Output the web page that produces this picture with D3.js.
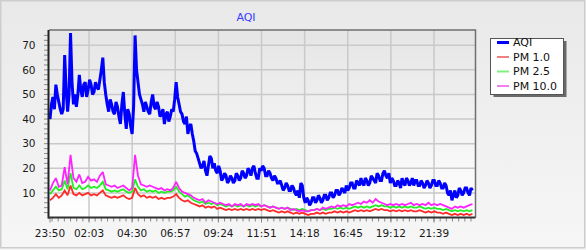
<!DOCTYPE html>
<html><head><meta charset="utf-8">
<script src="https://cdn.jsdelivr.net/npm/d3@7"></script>
<style>
body{margin:0;background:#fff}
svg{display:block}
text{font-family:"DejaVu Sans",Verdana,sans-serif}
</style>
</head><body>
<svg id="c" width="586" height="250"></svg>
<script>
// ---- data ----
const title = "AQI";
const startTime = "23:50";
const aqiStepMinutes = 5;
const pmStepMinutes = 10;
const tickLabels = ["23:50","02:03","04:30","06:57","09:24","11:51","14:18","16:45","19:12","21:39"];
const yTicks = [10,20,30,40,50,60,70];
const seriesNames = ["AQI","PM 1.0","PM 2.5","PM 10.0"];

const aqi = [
 40,46, 49,44, 54,50, 47,44, 42,44,
 66,52, 43,50, 75,55, 46,50, 45,50,
 58,52, 49,54, 55,49, 52,56, 54,50,
 51,55, 53,52, 56,60, 65,55, 50,46,
 43,48, 46,43, 42,47, 45,41, 38,46,
 51,42, 36,44, 42,37, 34,45, 74,60,
 55,50, 48,46, 43,47, 45,43, 42,47,
 50,45, 44,47, 45,41, 42,44, 38,42,
 43,39, 41,44, 43,48, 55,49, 46,43,
 42,39, 38,41, 34,37, 38,34, 31,27,
 26,24, 22,20, 21,23, 19,17, 21,25,
 24,20, 22,19, 18,21, 19,15, 16,18,
 17,14, 15,17, 16,14, 15,18, 17,15,
 16,19, 18,16, 17,20, 19,17, 20,21,
 18,16, 16,20, 19,21, 20,17, 17,19,
 18,16, 15,17, 16,14, 14,15, 13,11,
 12,14, 13,11, 11,13, 12,10, 9,11,
 8,14, 13,8, 6,8, 7,5, 6,8,
 8,6, 7,9, 8,6, 7,9, 9,7,
 8,10, 10,8, 9,11, 11,9, 10,12,
 11,10, 13,11, 12,14, 14,12, 12,15,
 14,13, 16,14, 13,16, 15,13, 14,17,
 16,15, 14,18, 17,15, 15,18, 19,17,
 16,18, 14,16, 15,13, 13,15, 14,12,
 16,14, 13,16, 15,13, 14,16, 13,15,
 15,13, 13,15, 14,12, 13,15, 14,12,
 13,15, 15,13, 13,15, 14,12, 12,14,
 13,10, 9,11, 7,9, 11,8, 9,12,
 11,9, 10,12, 12,10, 9,12, 11];

const pm1 = [
 7,8,9.5,8,9,11,9,13,9.5,9,
 10,9,9.5,10,9,9.5,9,10,11,9,
 8.5,8,8.5,8,8.5,9,8,7.5,8,12,
 9.5,8.5,9,8,8.5,8,8.5,7.5,8,7.5,
 8,8,8.5,9.5,8,7,6.5,7,6,5.5,
 5,4.5,5,4,4.5,4,4.5,3.5,4,3.5,
 3,3.5,3,3.5,3,3.5,3,3.5,3,3.5,
 3,3.5,3,3.5,3,2.5,3,2.5,2,2.5,
 2,2.5,2,1.5,2,1.5,2,1.5,1,1.5,
 1.5,2,1.5,2,1.5,2,2,2.5,2,2.5,
 2,2.5,2,2.5,3,2.5,3,2.5,3,2.5,
 3,3.5,3,3.5,3,3,2.5,3,2.5,3,
 2.5,3,2.5,3,2.5,2.5,3,2.5,2,2.5,
 2,2.5,2,2,1.5,2,1.5,1,1.5,1,
 1.5,1,1.5,1,1.5];

const pm25 = [
 9.5,11,12.5,11,11.5,15,11.5,18,12,11.5,
 13,11.5,12,13,12,12.5,12,13,14.5,11.5,
 11,10.5,11,10.5,11,11.5,10.5,10,10.5,15.5,
 12.5,11,11.5,10.5,11,10.5,11,10,10.5,10,
 10.5,10.5,11,12.5,10.5,9.5,8.5,9,8,7,
 6.5,6,6.5,5.5,6,5.5,6,5,5.5,5,
 4.5,5,4.5,5,4.5,5,4.5,5,4.5,5,
 4.5,5,4.5,5,4.5,4,4.5,4,3.5,4,
 3.5,4,3.5,3,3.5,3,3.5,3,2.5,3,
 3,3.5,3,3.5,3,3.5,3.5,4,3.5,4,
 3.5,4,3.5,4,4.5,4,4.5,4,4.5,4,
 4.5,5,4.5,5,4.5,4.5,4,4.5,4,4.5,
 4,4.5,4,4.5,4,4,4.5,4,3.5,4,
 3.5,4,3.5,3.5,3,3.5,3,2.5,3,2.5,
 3,2.5,3,2.5,3];

const pm10 = [
 11,14,16,12.5,13,20.5,13.5,25.5,16,14.5,
 17.5,14,14.5,16.5,15,15.5,14.5,17,18.5,13.5,
 13,12.5,13,12,12.5,13,12,11,12,25.5,
 17,13.5,13,12.5,13,12.5,12,11.5,12,11,
 11.5,11,12,14.5,12,10.5,10,9.5,9,8,
 7.5,7,7.5,6,7,6.5,6,5.5,6,5.5,
 5,5.5,4.5,5.5,5,5.5,4.5,5.5,5,5.5,
 5,5.5,4.5,5,4.5,4,4.5,4,3.5,4,
 3.5,4,3,3.5,3,2.5,3,2.5,2.5,3,
 3,3.5,3,4,3.5,4,4.5,4,5,4.5,
 5,4.5,5.5,5,5.5,6,5.5,6.5,6,7,
 6,7.5,6.5,6,5.5,5,5.5,5,5.5,5,
 5.5,5,5.5,6,5,5.5,5,5.5,5,6,
 5,5.5,5,5.5,5,4.5,4,3.5,4.5,4,
 4.5,4,4.5,5,5.5];

// ---- chart ----
const svg = d3.select("#c");
const W = 586, H = 250;
const L = 49, R = 475.5, T = 30, B = 217.5;

const toMin = s => { const [h,m] = s.split(":").map(Number); return h*60+m; };
const start = toMin(startTime);
const tickMin = tickLabels.map(s => ((toMin(s) - start) + 1440) % 1440);

const x = d3.scaleLinear().domain([-3.4, 1450.4]).range([L, R]);
const y = d3.scaleLinear().domain([0, 76.2]).range([B, T]);

const defs = svg.append("defs");
const g1 = defs.append("linearGradient").attr("id","bgOuter").attr("x1",0).attr("y1",0).attr("x2",0).attr("y2",1);
g1.append("stop").attr("offset","0%").attr("stop-color","#e9e9e9");
g1.append("stop").attr("offset","100%").attr("stop-color","#f6f6f6");
const g2 = defs.append("linearGradient").attr("id","bgPlot").attr("x1",0).attr("y1",0).attr("x2",0).attr("y2",1);
g2.append("stop").attr("offset","0%").attr("stop-color","#e5e5e5");
g2.append("stop").attr("offset","100%").attr("stop-color","#ffffff");

svg.append("rect").attr("x",0).attr("y",0).attr("width",W).attr("height",H).attr("fill","#f4f4f4");
svg.append("rect").attr("x",0.75).attr("y",0.75).attr("width",584).attr("height",247)
  .attr("fill","url(#bgOuter)").attr("stroke","#cdcdcd").attr("stroke-width",1.5);

svg.append("rect").attr("x",L).attr("y",T).attr("width",R-L).attr("height",B-T).attr("fill","url(#bgPlot)");

// grid
const grid = svg.append("g").attr("stroke","#c9c9c9").attr("stroke-width",1.5);
yTicks.forEach(v => grid.append("line").attr("x1",L).attr("x2",R).attr("y1",y(v)).attr("y2",y(v)));
tickMin.slice(1).forEach(m => grid.append("line").attr("x1",x(m)).attr("x2",x(m)).attr("y1",T).attr("y2",B));

// title
svg.append("text").attr("x",246).attr("y",21).attr("text-anchor","middle")
  .attr("font-size",11).attr("fill","#3a3aff").text(title);

// lines
const mkLine = step => d3.line().x((d,i) => x(i*step)).y(d => y(d));
const series = [
  {name: seriesNames[0], data: aqi,  step: aqiStepMinutes, color:"#0000ff", w:3},
  {name: seriesNames[1], data: pm1,  step: pmStepMinutes, color:"#ff2a2a", w:1.8},
  {name: seriesNames[2], data: pm25, step: pmStepMinutes, color:"#22ee22", w:1.8},
  {name: seriesNames[3], data: pm10, step: pmStepMinutes, color:"#ff22ff", w:1.8}
];
series.forEach(s => {
  svg.append("path").attr("d", mkLine(s.step)(s.data)).attr("fill","none")
    .attr("stroke", s.color).attr("stroke-width", s.w).attr("stroke-linejoin","miter").attr("stroke-miterlimit",2);
});

// frame top/right
svg.append("path").attr("d",`M${L},${T}H${R}V${B}`).attr("fill","none").attr("stroke","#6f6f6f").attr("stroke-width",1.5);

// y axis
const yAxis = svg.append("g");
d3.range(2, 76, 2).forEach(v => yAxis.append("line").attr("x1",L-5).attr("x2",L).attr("y1",y(v)).attr("y2",y(v))
  .attr("stroke","#8a8a8a").attr("stroke-width",1));
yTicks.forEach(v => yAxis.append("text").attr("x",35.5).attr("y",y(v)).attr("dy","0.36em")
  .attr("text-anchor","end").attr("font-size",10.5).attr("fill","#1a1a1a").text(v));

// x axis
const xAxis = svg.append("g");
d3.range(7, 1450, 21).forEach(m => xAxis.append("line").attr("x1",x(m)).attr("x2",x(m)).attr("y1",B).attr("y2",B+4)
  .attr("stroke","#8a8a8a").attr("stroke-width",1));
tickMin.forEach((m,i) => {
  xAxis.append("line").attr("x1",x(m)).attr("x2",x(m)).attr("y1",B).attr("y2",B+5).attr("stroke","#8a8a8a");
  xAxis.append("text").attr("x",x(m)).attr("y",237).attr("text-anchor","middle")
    .attr("font-size",10.5).attr("fill","#1a1a1a").text(tickLabels[i]);
});

svg.append("line").attr("x1",L-0.5).attr("x2",L-0.5).attr("y1",T).attr("y2",B+1).attr("stroke","#222").attr("stroke-width",2);
svg.append("line").attr("x1",L-1).attr("x2",R).attr("y1",B).attr("y2",B).attr("stroke","#333").attr("stroke-width",2);

// legend
const lg = svg.append("g");
lg.append("rect").attr("x",493.5).attr("y",41).attr("width",73).attr("height",56).attr("fill","#6a6a6a");
lg.append("rect").attr("x",490.5).attr("y",38.5).attr("width",73).attr("height",56)
  .attr("fill","#ffffff").attr("stroke","#555").attr("stroke-width",1);
const legendColors = ["#0000ff","#f08080","#80f080","#f080f0"];
const legendW = [3,2,2,2];
seriesNames.forEach((n,i) => {
  const cy = 42.5 + i*14.5;
  lg.append("line").attr("x1",497).attr("x2",509).attr("y1",cy).attr("y2",cy)
    .attr("stroke",legendColors[i]).attr("stroke-width",legendW[i]);
  lg.append("text").attr("x",513).attr("y",cy+3.6).attr("font-size",11).attr("fill","#111").text(n);
});
</script>
</body></html>
